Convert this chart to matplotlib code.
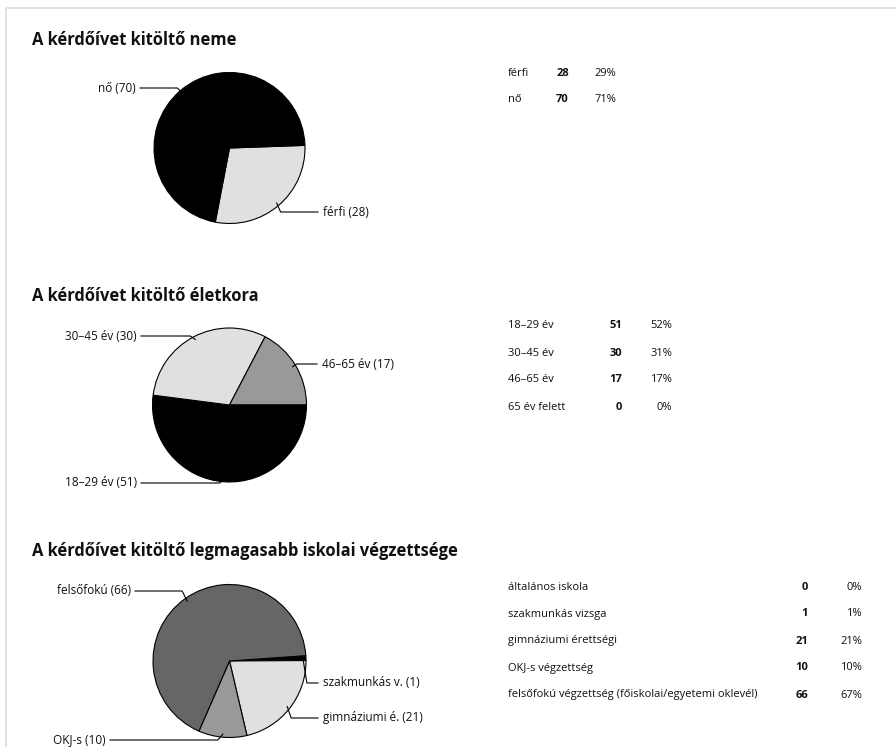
import matplotlib
matplotlib.use("Agg")
import matplotlib.pyplot as plt
import numpy as np

plt.rcParams['font.family'] = ['Open Sans', 'DejaVu Sans']

W, H = 896, 747

# ---- data ----
titles = ["A kérdőívet kitöltő neme",
          "A kérdőívet kitöltő életkora",
          "A kérdőívet kitöltő legmagasabb iskolai végzettsége"]

gender_cats = ["férfi", "nő"]
gender_vals = [28, 70]
gender_pie_labels = ["férfi (28)", "nő (70)"]
gender_pcts = ["29%", "71%"]

age_cats = ["18–29 év", "30–45 év", "46–65 év", "65 év felett"]
age_vals = [51, 30, 17, 0]
age_pie_labels = ["18–29 év (51)", "30–45 év (30)", "46–65 év (17)", None]
age_pcts = ["52%", "31%", "17%", "0%"]

edu_cats = ["általános iskola", "szakmunkás vizsga", "gimnáziumi érettségi",
            "OKJ-s végzettség", "felsőfokú végzettség (főiskolai/egyetemi oklevél)"]
edu_vals = [0, 1, 21, 10, 66]
edu_pie_labels = [None, "szakmunkás v. (1)", "gimnáziumi é. (21)", "OKJ-s (10)", "felsőfokú (66)"]
edu_pcts = ["0%", "1%", "21%", "10%", "67%"]

# ---- styling / layout ----
gender_colors = ["#e0e0e0", "#000000"]
age_colors = ["#000000", "#e0e0e0", "#999999", "#666666"]
edu_colors = ["#cccccc", "#000000", "#e0e0e0", "#999999", "#666666"]
TXT = "#111111"

fig = plt.figure(figsize=(W / 100, H / 100), dpi=100)
ax = fig.add_axes([0, 0, 1, 1])


def Y(py):
    return H - py


# border
ax.plot([6, 6, W], [Y(H), Y(8), Y(8)], color="#dddddd", lw=1.2, solid_capstyle="butt")

title_y = [40, 296, 551]
for t, ty in zip(titles, title_y):
    ax.text(32, Y(ty), t, fontsize=11.9, fontweight="bold", color=TXT,
            va="center", ha="left")

# pies: (values, colors, labels, center_px, radius, startangle, label positions {idx: (side, text_x, text_y)})
pies = [
    (gender_vals, gender_colors, gender_pie_labels, (229.5, 148), 75.5, 2,
     {0: ("R", 323, 212), 1: ("L", 136, 88)}),
    (age_vals, age_colors, age_pie_labels, (229.5, 405), 77, 0,
     {0: ("L", 137, 483), 1: ("L", 137, 336), 2: ("R", 322, 364)}),
    (edu_vals, edu_colors, edu_pie_labels, (229.5, 661), 76.5, 4,
     {1: ("R", 323, 683), 2: ("R", 323, 718), 3: ("L", 106, 740), 4: ("L", 131, 591)}),
]

for vals, cols, labs, (cx, cy), r, sa, lpos in pies:
    wedges, _ = ax.pie(vals, colors=cols, radius=r, center=(cx, Y(cy)),
                       startangle=sa, counterclock=False, frame=True,
                       wedgeprops=dict(edgecolor="black", linewidth=0.8))
    for i, (side, tx, ty) in lpos.items():
        w = wedges[i]
        mid = np.deg2rad((w.theta1 + w.theta2) / 2.0)
        ax_ = cx + 0.96 * r * np.cos(mid)
        ay_ = Y(cy) + 0.96 * r * np.sin(mid)
        if side == "L":
            ex = ax_ - 5
            ax.plot([tx + 4, ex, ax_], [Y(ty), Y(ty), ay_], color="black", lw=0.8)
            ax.text(tx, Y(ty), labs[i], fontsize=8.5, color=TXT, ha="right", va="center")
        else:
            ex = ax_ + 4
            ax.plot([ax_, ex, tx - 5], [ay_, Y(ty), Y(ty)], color="black", lw=0.8)
            ax.text(tx, Y(ty), labs[i], fontsize=8.5, color=TXT, ha="left", va="center")

# tables
tables = [
    (gender_cats, gender_vals, gender_pcts, 508, 569, 616, [74, 100]),
    (age_cats, age_vals, age_pcts, 508, 622, 672, [326, 353, 380, 407]),
    (edu_cats, edu_vals, edu_pcts, 508, 808, 862, [587, 614, 641, 668, 695]),
]
for cats, vals, pcts, lx, cx_, px, rows in tables:
    for c, v, p, ry in zip(cats, vals, pcts, rows):
        ax.text(lx, Y(ry), c, fontsize=8, color=TXT, ha="left", va="center")
        ax.text(cx_, Y(ry), str(v), fontsize=8, color=TXT, ha="right", va="center",
                fontweight="bold")
        ax.text(px, Y(ry), p, fontsize=8, color=TXT, ha="right", va="center")

ax.set_xlim(0, W)
ax.set_ylim(0, H)
ax.set_aspect("auto")
ax.axis("off")

fig.savefig("out.png", dpi=100, facecolor="white")
